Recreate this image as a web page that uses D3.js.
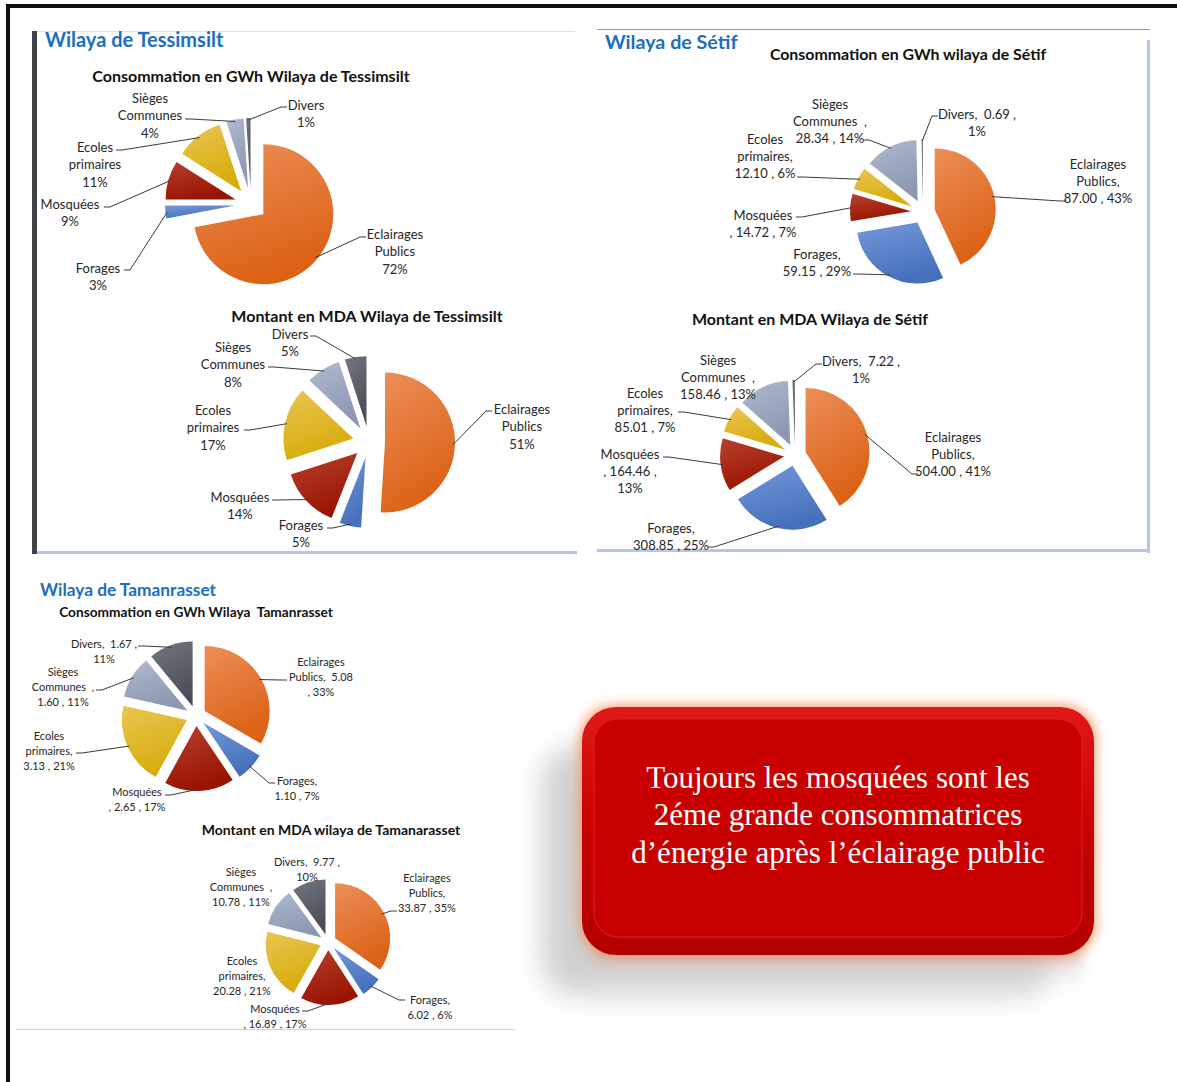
<!DOCTYPE html>
<html>
<head>
<meta charset="utf-8">
<script src="https://cdn.jsdelivr.net/npm/d3@7"></script>
<style>
  body { margin: 0; background: #fff; }
  svg { display: block; font-family: Lato, "Open Sans", sans-serif; }
  text { white-space: pre; }
</style>
</head>
<body>
<svg id="chart" width="1177" height="1082"></svg>
<script>
// slice order follows the original workbook (clockwise from 12 o'clock)
const categories = ['Eclairages Publics', 'Forages', 'Mosquées', 'Ecoles primaires', 'Sièges Communes', 'Divers'];

const tessimsiltGWh = [72, 3, 9, 11, 4, 1];
const tessimsiltMDA = [51, 5, 14, 17, 8, 5];
const setifGWh = [87.00, 59.15, 14.72, 12.10, 28.34, 0.69];
const setifMDA = [504.00, 308.85, 164.46, 85.01, 158.46, 7.22];
const tamanrassetGWh = [5.08, 1.10, 2.65, 3.13, 1.60, 1.67];
const tamanrassetMDA = [33.87, 6.02, 16.89, 20.28, 10.78, 9.77];

const tessimsiltGWhLabels = [['Eclairages', 'Publics', '72%'], ['Forages', '3%'], ['Mosquées', '9%'], ['Ecoles', 'primaires', '11%'], ['Sièges', 'Communes', '4%'], ['Divers', '1%']];
const tessimsiltMDALabels = [['Eclairages', 'Publics', '51%'], ['Forages', '5%'], ['Mosquées', '14%'], ['Ecoles', 'primaires', '17%'], ['Sièges', 'Communes', '8%'], ['Divers', '5%']];
const setifGWhLabels = [['Eclairages', 'Publics,', '87.00 , 43%'], ['Forages,', '59.15 , 29%'], ['Mosquées', ', 14.72 , 7%'], ['Ecoles', 'primaires,', '12.10 , 6%'], ['Sièges', 'Communes  ,', '28.34 , 14%'], ['Divers,  0.69 ,', '1%']];
const setifMDALabels = [['Eclairages', 'Publics,', '504.00 , 41%'], ['Forages,', '308.85 , 25%'], ['Mosquées', ', 164.46 ,', '13%'], ['Ecoles', 'primaires,', '85.01 , 7%'], ['Sièges', 'Communes  ,', '158.46 , 13%'], ['Divers,  7.22 ,', '1%']];
const tamanrassetGWhLabels = [['Eclairages', 'Publics,  5.08', ', 33%'], ['Forages,', '1.10 , 7%'], ['Mosquées', ', 2.65 , 17%'], ['Ecoles', 'primaires,', '3.13 , 21%'], ['Sièges', 'Communes  ,', '1.60 , 11%'], ['Divers,  1.67 ,', '11%']];
const tamanrassetMDALabels = [['Eclairages', 'Publics,', '33.87 , 35%'], ['Forages,', '6.02 , 6%'], ['Mosquées', ', 16.89 , 17%'], ['Ecoles', 'primaires,', '20.28 , 21%'], ['Sièges', 'Communes  ,', '10.78 , 11%'], ['Divers,  9.77 ,', '10%']];

const chartTitles = [
  'Consommation en GWh Wilaya de Tessimsilt',
  'Montant en MDA Wilaya de Tessimsilt',
  'Consommation en GWh wilaya de Sétif',
  'Montant en MDA Wilaya de Sétif',
  'Consommation en GWh Wilaya  Tamanrasset',
  'Montant en MDA wilaya de Tamanarasset',
];
const wilayaTitles = ['Wilaya de Tessimsilt', 'Wilaya de Sétif', 'Wilaya de Tamanrasset'];
const noteLines = ['Toujours les mosquées sont les', '2éme grande consommatrices', 'd’énergie après l’éclairage public'];

// gradient stops per category: [light, dark]
const palette = [
  ['#EC8F58', '#DC6216'],
  ['#7499D8', '#4670BC'],
  ['#B8402E', '#981400'],
  ['#E9C652', '#D8AC0C'],
  ['#B0BAD0', '#8C98B2'],
  ['#737880', '#4A4F57'],
];

// label layout: [textX, firstLineY, leaderX, leaderY]
const tessGWhPlace = [[395, 234, 366, 237], [98, 268, 124, 270], [70, 204, 104, 207], [95, 147, 116, 150], [150, 98, 185, 119], [306, 105, 287, 107]];
const tessMDAPlace = [[522, 409, 492, 411], [301, 525, 327, 528], [240, 497, 272, 500], [213, 410, 244, 430], [233, 347, 268, 367], [290, 334, 310, 336]];
const setifGWhPlace = [[1098, 164, 1066, 201], [817, 254, 853, 274], [763, 215, 796, 217], [765, 139, 797, 177], [830, 104, 863, 140], [977, 114, 938, 116]];
const setifMDAPlace = [[953, 437, 918, 474], [671, 528, 708, 547], [630, 454, 663, 457], [645, 393, 678, 412], [718, 360, null, null], [861, 361, 822, 364]];
const tamGWhPlace = [[321, 662, 287, 680], [297, 781, 275, 783], [137, 792, 165, 795], [49, 736, 76, 753], [63, 672, 96, 690], [104, 644, 138, 646]];
const tamMDAPlace = [[427, 878, 397, 911], [430, 1000, 405, 1000], [275, 1009, 302, 1011], [242, 961, null, null], [241, 872, null, null], [307, 862, null, null]];

const charts = [
  { values: tessimsiltGWh, labels: tessimsiltGWhLabels, place: tessGWhPlace, title: chartTitles[0], tx: 251, ty: 76, tsize: 16, cx: 251, cy: 204, r: 70, e: 16, fs: 13, lh: 17.5 },
  { values: tessimsiltMDA, labels: tessimsiltMDALabels, place: tessMDAPlace, title: chartTitles[1], tx: 367, ty: 316, tsize: 16, cx: 369, cy: 442, r: 70, e: 16, fs: 13, lh: 17.5 },
  { values: setifGWh, labels: setifGWhLabels, place: setifGWhPlace, title: chartTitles[2], tx: 908, ty: 54, tsize: 15.9, cx: 923, cy: 212, r: 61, e: 12, fs: 13, lh: 17 },
  { values: setifMDA, labels: setifMDALabels, place: setifMDAPlace, title: chartTitles[3], tx: 810, ty: 319, tsize: 16, cx: 795, cy: 455, r: 64, e: 11, fs: 13, lh: 17 },
  { values: tamanrassetGWh, labels: tamanrassetGWhLabels, place: tamGWhPlace, title: chartTitles[4], tx: 196, ty: 612, tsize: 13.7, cx: 196, cy: 716, r: 65, e: 10, fs: 11, lh: 15 },
  { values: tamanrassetMDA, labels: tamanrassetMDALabels, place: tamMDAPlace, title: chartTitles[5], tx: 331, ty: 830, tsize: 14, cx: 328, cy: 942, r: 55, e: 8, fs: 11, lh: 15 },
];

const svg = d3.select('#chart');
const defs = svg.append('defs');

palette.forEach((c, i) => {
  const g = defs.append('linearGradient')
    .attr('id', 'slice' + i)
    .attr('x1', 0).attr('y1', 0).attr('x2', 0.35).attr('y2', 1);
  g.append('stop').attr('offset', 0).attr('stop-color', c[0]);
  g.append('stop').attr('offset', 1).attr('stop-color', c[1]);
});

// page frame
svg.append('line').attr('x1', 6).attr('x2', 1177).attr('y1', 6).attr('y2', 6)
  .attr('stroke', '#111').attr('stroke-width', 4);
svg.append('line').attr('x1', 8).attr('x2', 8).attr('y1', 4).attr('y2', 1082)
  .attr('stroke', '#111').attr('stroke-width', 4);

// panel decorations
svg.append('line').attr('x1', 37).attr('x2', 575).attr('y1', 31.5).attr('y2', 31.5).attr('stroke', '#e2e2e2');
svg.append('rect').attr('x', 32).attr('y', 31).attr('width', 5).attr('height', 523).attr('fill', '#3f4246');
svg.append('rect').attr('x', 37).attr('y', 551).attr('width', 540).attr('height', 3).attr('fill', '#b7c6e6');

svg.append('line').attr('x1', 597).attr('x2', 1150).attr('y1', 29.5).attr('y2', 29.5).attr('stroke', '#9a9a9a');
svg.append('rect').attr('x', 1147).attr('y', 40).attr('width', 3).attr('height', 513).attr('fill', '#b7c6e6');
svg.append('rect').attr('x', 597).attr('y', 549).attr('width', 553).attr('height', 3).attr('fill', '#b7c6e6');

svg.append('line').attr('x1', 16).attr('x2', 515).attr('y1', 1029.5).attr('y2', 1029.5).attr('stroke', '#c9d4e4');

// wilaya headings
const headPos = [[45, 47, 20], [605, 49, 19.7], [40, 596, 17.3]];
svg.selectAll('.wilaya')
  .data(wilayaTitles)
  .enter()
  .append('text')
  .attr('class', 'wilaya')
  .attr('x', (d, i) => headPos[i][0])
  .attr('y', (d, i) => headPos[i][1])
  .attr('font-size', (d, i) => headPos[i][2])
  .attr('font-weight', 700)
  .attr('fill', '#1a6fc0')
  .text(d => d);

const pie = d3.pie().sort(null).startAngle(0).endAngle(2 * Math.PI);

charts.forEach((c) => {
  const g = svg.append('g');

  g.append('text')
    .attr('x', c.tx).attr('y', c.ty)
    .attr('dy', '0.35em')
    .attr('text-anchor', 'middle')
    .attr('font-size', c.tsize)
    .attr('font-weight', 700)
    .attr('fill', '#111')
    .text(c.title);

  const arcs = pie(c.values);
  const arc = d3.arc().innerRadius(0).outerRadius(c.r);
  const mid = d => (d.startAngle + d.endAngle) / 2;
  const shift = d => [c.e * Math.sin(mid(d)), -c.e * Math.cos(mid(d))];

  g.selectAll('.slice')
    .data(arcs)
    .enter()
    .append('path')
    .attr('class', 'slice')
    .attr('transform', d => {
      const [sx, sy] = shift(d);
      return `translate(${c.cx + sx},${c.cy + sy})`;
    })
    .attr('d', arc)
    .attr('fill', (d, i) => `url(#slice${i})`);

  // leader lines
  arcs.forEach((d, i) => {
    const p = c.place[i];
    if (p[2] === null) return;
    const [sx, sy] = shift(d);
    const a = mid(d);
    const x0 = c.cx + sx + (c.r - 2) * Math.sin(a);
    const y0 = c.cy + sy - (c.r - 2) * Math.cos(a);
    const bend = x0 < p[2] ? p[2] - 6 : p[2] + 6;
    g.append('path')
      .attr('d', d3.line()([[x0, y0], [bend, p[3]], [p[2], p[3]]]))
      .attr('fill', 'none')
      .attr('stroke', '#3a3a3a')
      .attr('stroke-width', 1);
  });

  // labels
  c.labels.forEach((lines, i) => {
    const p = c.place[i];
    const t = g.append('text')
      .attr('text-anchor', 'middle')
      .attr('font-size', c.fs)
      .attr('fill', '#262626');
    lines.forEach((s, k) => {
      t.append('tspan')
        .attr('x', p[0])
        .attr('y', p[1] + k * c.lh)
        .attr('dy', '0.35em')
        .text(s);
    });
  });
});

// note box
const box = { x: 582, y: 707, w: 512, h: 248, rx: 34 };

const blur = defs.append('filter').attr('id', 'blur').attr('x', '-30%').attr('y', '-30%').attr('width', '160%').attr('height', '160%');
blur.append('feGaussianBlur').attr('stdDeviation', 14);
const glow = defs.append('filter').attr('id', 'glow').attr('x', '-20%').attr('y', '-20%').attr('width', '140%').attr('height', '140%');
glow.append('feGaussianBlur').attr('stdDeviation', 6);

const edge = defs.append('linearGradient').attr('id', 'boxEdge').attr('x1', 0).attr('y1', 0).attr('x2', 0).attr('y2', 1);
edge.append('stop').attr('offset', 0).attr('stop-color', '#e01818');
edge.append('stop').attr('offset', 0.5).attr('stop-color', '#c80000');
edge.append('stop').attr('offset', 1).attr('stop-color', '#b40000');

const reflect = defs.append('linearGradient').attr('id', 'reflect').attr('x1', 0).attr('y1', 0).attr('x2', 0).attr('y2', 1);
reflect.append('stop').attr('offset', 0).attr('stop-color', '#c9a8a8').attr('stop-opacity', 0.6);
reflect.append('stop').attr('offset', 1).attr('stop-color', '#ffffff').attr('stop-opacity', 0);

const note = svg.append('g');
note.append('rect')
  .attr('x', box.x - 40).attr('y', box.y + 40).attr('width', box.w).attr('height', box.h)
  .attr('rx', box.rx).attr('fill', '#8a8a8a').attr('opacity', 0.4)
  .attr('filter', 'url(#blur)');
note.append('rect')
  .attr('x', box.x + 10).attr('y', box.y + box.h - 6).attr('width', box.w - 20).attr('height', 50)
  .attr('fill', 'url(#reflect)').attr('filter', 'url(#glow)');
note.append('rect')
  .attr('x', box.x - 2).attr('y', box.y - 2).attr('width', box.w + 4).attr('height', box.h + 4)
  .attr('rx', box.rx).attr('fill', '#f08a50').attr('opacity', 0.8)
  .attr('filter', 'url(#glow)');
note.append('rect')
  .attr('x', box.x).attr('y', box.y).attr('width', box.w).attr('height', box.h)
  .attr('rx', box.rx).attr('fill', 'url(#boxEdge)');
note.append('rect')
  .attr('x', box.x + 12).attr('y', box.y + 12).attr('width', box.w - 24).attr('height', box.h - 30)
  .attr('rx', box.rx - 10).attr('fill', '#c80000')
  .attr('stroke', '#d82424').attr('stroke-width', 1);

note.selectAll('.note')
  .data(noteLines)
  .enter()
  .append('text')
  .attr('class', 'note')
  .attr('x', 838)
  .attr('y', (d, i) => 777 + i * 37.5)
  .attr('dy', '0.35em')
  .attr('text-anchor', 'middle')
  .attr('font-family', '"Liberation Serif", "DejaVu Serif", serif')
  .attr('font-size', 31)
  .attr('fill', '#fff')
  .text(d => d);
</script>
</body>
</html>
